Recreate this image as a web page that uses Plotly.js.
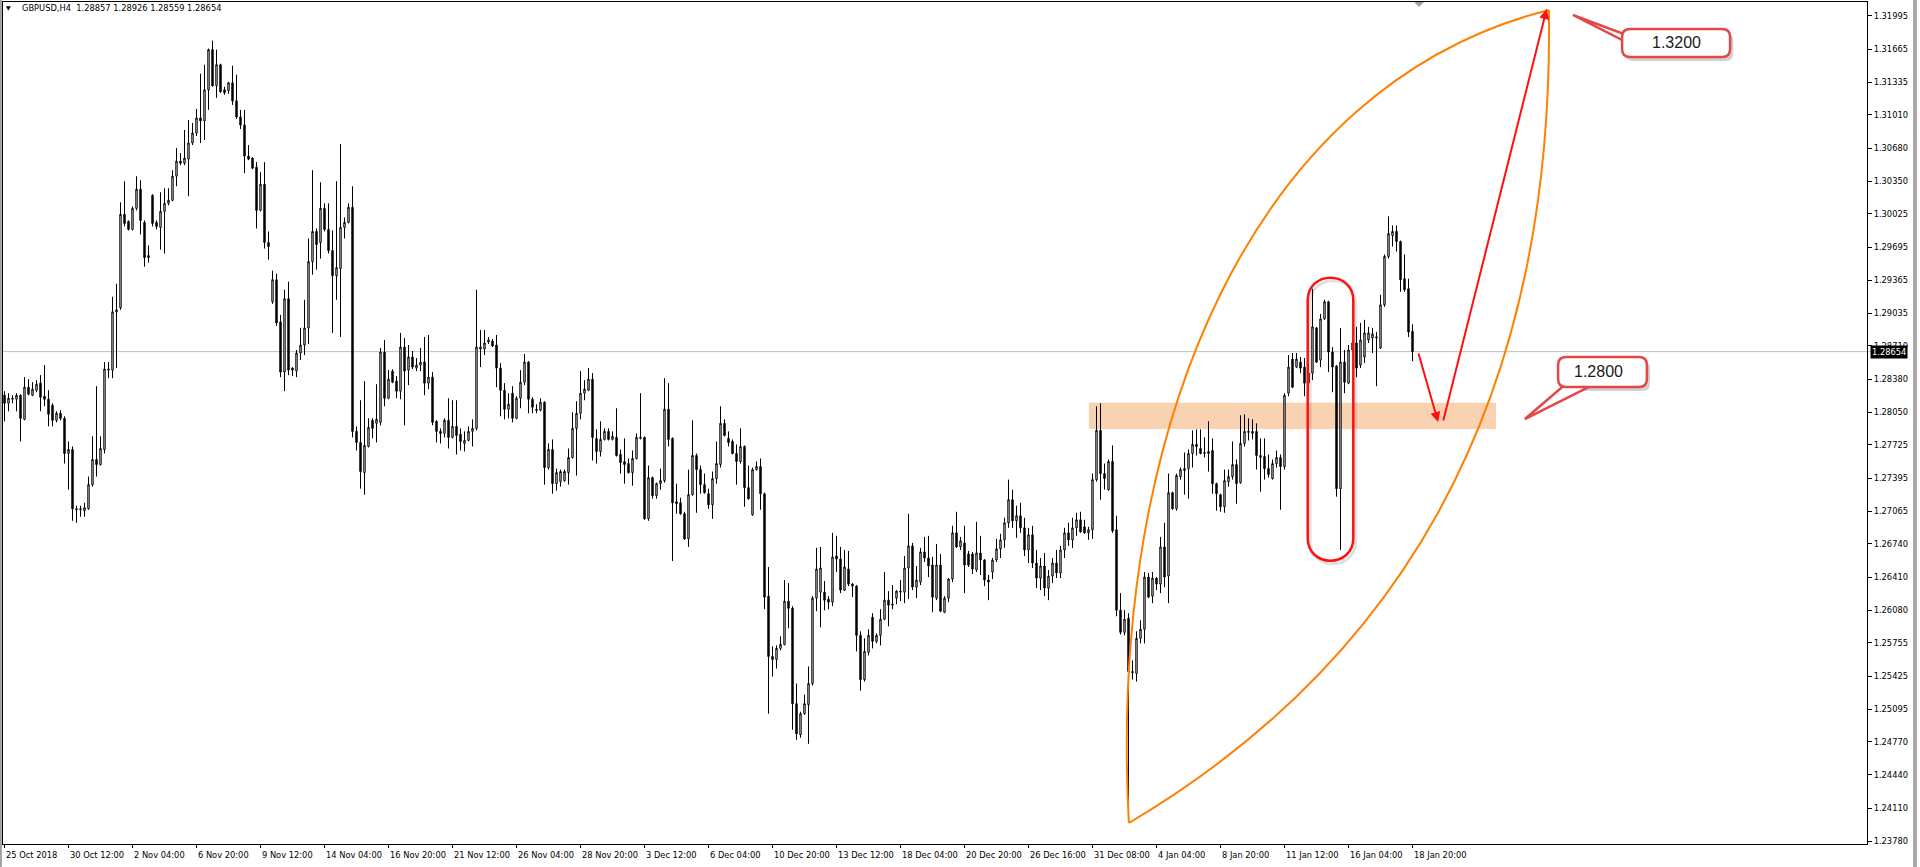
<!DOCTYPE html>
<html><head><meta charset="utf-8">
<script src="https://cdn.plot.ly/plotly-3.0.1.min.js"></script>
<style>html,body{margin:0;padding:0;background:#fff;overflow:hidden}#chart{width:1920px;height:867px}</style>
</head><body><div id="chart"></div><script>
// GBPUSD H4 candles, bar index 0 = 25 Oct 2018
const openP = [
1.2822,1.2814,1.2818,1.2818,1.2822,1.2798,1.2830,1.2822,1.2827,1.2834,
1.2821,1.2818,1.2812,1.2797,1.2804,1.2799,1.2764,1.2768,1.2709,1.2708,
1.2707,1.2709,1.2733,1.2758,1.2753,1.2768,1.2847,1.2847,1.2905,1.2909,
1.3002,1.2995,1.2987,1.3008,1.3027,1.2994,1.2959,1.3021,1.2994,1.2989,
1.3005,1.3013,1.3016,1.3040,1.3055,1.3053,1.3057,1.3073,1.3083,1.3098,
1.3095,1.3126,1.3166,1.3130,1.3151,1.3126,1.3125,1.3133,1.3115,1.3099,
1.3091,1.3060,1.3058,1.3049,1.3006,1.3032,1.2974,1.2915,1.2937,1.2895,
1.2845,1.2918,1.2849,1.2846,1.2864,1.2872,1.2889,1.2955,1.2985,1.2974,
1.3008,1.2987,1.2966,1.2941,1.2948,1.2989,1.2994,1.3009,1.2786,1.2775,
1.2745,1.2771,1.2797,1.2794,1.2795,1.2865,1.2819,1.2846,1.2836,1.2826,
1.2870,1.2847,1.2860,1.2849,1.2852,1.2855,1.2834,1.2840,1.2796,1.2786,
1.2784,1.2797,1.2780,1.2791,1.2783,1.2774,1.2777,1.2786,1.2789,1.2868,
1.2868,1.2875,1.2876,1.2872,1.2849,1.2827,1.2808,1.2824,1.2799,1.2819,
1.2835,1.2855,1.2818,1.2808,1.2807,1.2815,1.2750,1.2768,1.2734,1.2736,
1.2737,1.2745,1.2760,1.2789,1.2804,1.2824,1.2827,1.2838,1.2779,1.2766,
1.2778,1.2786,1.2778,1.2780,1.2763,1.2756,1.2754,1.2745,1.2759,1.2779,
1.2780,1.2699,1.2740,1.2722,1.2734,1.2737,1.2808,1.2779,1.2716,1.2715,
1.2704,1.2679,1.2723,1.2762,1.2748,1.2733,1.2724,1.2713,1.2739,1.2753,
1.2794,1.2779,1.2776,1.2764,1.2756,1.2771,1.2730,1.2703,1.2748,1.2751,
1.2724,1.2622,1.2562,1.2559,1.2570,1.2574,1.2617,1.2610,1.2515,1.2484,
1.2505,1.2514,1.2535,1.2620,1.2626,1.2626,1.2619,1.2616,1.2662,1.2659,
1.2628,1.2649,1.2634,1.2632,1.2583,1.2539,1.2566,1.2601,1.2577,1.2583,
1.2599,1.2618,1.2613,1.2620,1.2626,1.2626,1.2650,1.2672,1.2631,1.2636,
1.2666,1.2660,1.2653,1.2620,1.2653,1.2606,1.2620,1.2639,1.2685,1.2671,
1.2675,1.2664,1.2664,1.2648,1.2665,1.2658,1.2638,1.2646,1.2658,1.2669,
1.2678,1.2695,1.2718,1.2697,1.2702,1.2690,1.2668,1.2683,1.2655,1.2640,
1.2652,1.2630,1.2642,1.2655,1.2645,1.2668,1.2685,1.2678,1.2690,1.2698,
1.2691,1.2685,1.2688,1.2738,1.2787,1.2744,1.2728,1.2756,1.2688,1.2608,
1.2586,1.2600,1.2547,1.2545,1.2580,1.2589,1.2641,1.2622,1.2640,1.2634,
1.2671,1.2642,1.2725,1.2709,1.2741,1.2747,1.2749,1.2764,1.2773,1.2769,
1.2764,1.2764,1.2767,1.2734,1.2723,1.2711,1.2736,1.2741,1.2753,1.2735,
1.2774,1.2785,1.2784,1.2786,1.2760,1.2761,1.2749,1.2739,1.2754,1.2760,
1.2751,1.2824,1.2858,1.2850,1.2855,1.2850,1.2834,1.2844,1.2889,1.2857,
1.2898,1.2915,1.2865,1.2851,1.2729,1.2855,1.2834,1.2867,1.2874,1.2852,
1.2860,1.2877,1.2879,1.2879,1.2869,1.2912,1.2960,1.2981,1.2985,1.2975,
1.2938,1.2928,1.28857];
const highP = [
1.2826,1.2824,1.2822,1.2824,1.2823,1.2840,1.2838,1.2835,1.2837,1.2842,
1.2852,1.2827,1.2814,1.2806,1.2807,1.2801,1.2776,1.2771,1.2712,1.2712,
1.2715,1.2741,1.2781,1.2831,1.2781,1.2855,1.2855,1.2920,1.2933,1.3014,
1.3035,1.2996,1.3010,1.3040,1.3036,1.2996,1.2971,1.3022,1.2996,1.3024,
1.3028,1.3028,1.3046,1.3068,1.3063,1.3086,1.3096,1.3093,1.3107,1.3142,
1.3151,1.3167,1.3175,1.3166,1.3152,1.3129,1.3134,1.3150,1.3141,1.3106,
1.3106,1.3071,1.3059,1.3054,1.3044,1.3054,1.2985,1.2946,1.2943,1.2902,
1.2927,1.2935,1.2850,1.2867,1.2889,1.2917,1.2978,1.3046,1.2988,1.3034,
1.3013,1.3013,1.2986,1.3035,1.3072,1.2999,1.3013,1.3030,1.2791,1.2817,
1.2836,1.2799,1.2799,1.2833,1.2869,1.2877,1.2847,1.2848,1.2841,1.2884,
1.2879,1.2872,1.2866,1.2859,1.2869,1.2880,1.2882,1.2845,1.2797,1.2789,
1.2799,1.2819,1.2817,1.2817,1.2789,1.2786,1.2791,1.2798,1.2927,1.2887,
1.2887,1.2880,1.2878,1.2882,1.2854,1.2834,1.2824,1.2831,1.2821,1.2847,
1.2863,1.2856,1.2820,1.2813,1.2819,1.2816,1.2774,1.2778,1.2749,1.2748,
1.2748,1.2769,1.2805,1.2816,1.2846,1.2837,1.2849,1.2844,1.2788,1.2796,
1.2789,1.2789,1.2786,1.2809,1.2768,1.2779,1.2759,1.2767,1.2784,1.2824,
1.2781,1.2752,1.2741,1.2735,1.2749,1.2839,1.2834,1.2780,1.2734,1.2720,
1.2706,1.2748,1.2797,1.2764,1.2752,1.2744,1.2729,1.2746,1.2776,1.2811,
1.2798,1.2786,1.2778,1.2773,1.2789,1.2772,1.2752,1.2750,1.2756,1.2759,
1.2725,1.2651,1.2572,1.2573,1.2582,1.2638,1.2635,1.2612,1.2535,1.2507,
1.2524,1.2552,1.2622,1.2670,1.2671,1.2637,1.2622,1.2685,1.2682,1.2671,
1.2668,1.2667,1.2635,1.2633,1.2587,1.2580,1.2589,1.2605,1.2585,1.2609,
1.2646,1.2627,1.2633,1.2628,1.2638,1.2662,1.2704,1.2675,1.2652,1.2670,
1.2681,1.2682,1.2661,1.2674,1.2664,1.2622,1.2640,1.2692,1.2706,1.2681,
1.2692,1.2667,1.2666,1.2696,1.2682,1.2659,1.2643,1.2660,1.2679,1.2684,
1.2700,1.2738,1.2728,1.2712,1.2715,1.2700,1.2690,1.2692,1.2668,1.2660,
1.2665,1.2648,1.2660,1.2668,1.2672,1.2690,1.2695,1.2700,1.2705,1.2706,
1.2698,1.2691,1.2744,1.2811,1.2814,1.2754,1.2758,1.2772,1.2702,1.2625,
1.2608,1.2605,1.2558,1.2587,1.2598,1.2646,1.2645,1.2646,1.2641,1.2681,
1.2695,1.2744,1.2726,1.2744,1.2750,1.2765,1.2768,1.2787,1.2788,1.2788,
1.2780,1.2796,1.2779,1.2735,1.2724,1.2748,1.2748,1.2776,1.2758,1.2802,
1.2803,1.2799,1.2798,1.2794,1.2779,1.2779,1.2763,1.2758,1.2767,1.2763,
1.2824,1.2862,1.2864,1.2864,1.2860,1.2859,1.2854,1.2928,1.2890,1.2903,
1.2917,1.2916,1.2870,1.2852,1.2889,1.2867,1.2872,1.2877,1.2890,1.2894,
1.2897,1.2890,1.2889,1.2885,1.2922,1.2962,1.3000,1.2991,1.2991,1.2976,
1.2962,1.2938,1.28926];
const lowP = [
1.2796,1.2806,1.2814,1.2806,1.2776,1.2797,1.2822,1.2821,1.2825,1.2806,
1.2811,1.2791,1.2791,1.2795,1.2797,1.2754,1.2728,1.2697,1.2695,1.2701,
1.2701,1.2708,1.2731,1.2741,1.2752,1.2764,1.2839,1.2839,1.2849,1.2907,
1.2990,1.2986,1.2986,1.3006,1.2982,1.2950,1.2954,1.2990,1.2987,1.2967,
1.2963,1.3011,1.3015,1.3030,1.3051,1.3051,1.3020,1.3071,1.3080,1.3073,
1.3076,1.3106,1.3129,1.3118,1.3123,1.3121,1.3122,1.3111,1.3097,1.3087,
1.3043,1.3056,1.3047,1.2988,1.3005,1.2968,1.2957,1.2913,1.2891,1.2840,
1.2826,1.2842,1.2841,1.2840,1.2857,1.2862,1.2873,1.2942,1.2947,1.2958,
1.2985,1.2963,1.2884,1.2917,1.2880,1.2978,1.2993,1.2780,1.2767,1.2729,
1.2723,1.2770,1.2779,1.2775,1.2792,1.2811,1.2818,1.2834,1.2819,1.2818,
1.2792,1.2832,1.2848,1.2846,1.2846,1.2822,1.2828,1.2792,1.2775,1.2774,
1.2780,1.2769,1.2779,1.2763,1.2767,1.2766,1.2776,1.2771,1.2787,1.2850,
1.2862,1.2873,1.2870,1.2830,1.2801,1.2798,1.2799,1.2795,1.2798,1.2809,
1.2832,1.2804,1.2804,1.2804,1.2806,1.2733,1.2748,1.2724,1.2727,1.2731,
1.2736,1.2733,1.2759,1.2742,1.2798,1.2817,1.2826,1.2757,1.2754,1.2761,
1.2777,1.2777,1.2777,1.2761,1.2744,1.2734,1.2744,1.2732,1.2758,1.2778,
1.2698,1.2697,1.2719,1.2719,1.2728,1.2735,1.2771,1.2657,1.2704,1.2703,
1.2678,1.2671,1.2722,1.2705,1.2724,1.2724,1.2709,1.2699,1.2734,1.2750,
1.2781,1.2771,1.2763,1.2733,1.2754,1.2711,1.2718,1.2702,1.2747,1.2708,
1.2609,1.2505,1.2542,1.2550,1.2568,1.2573,1.2590,1.2489,1.2479,1.2481,
1.2504,1.2475,1.2533,1.2607,1.2591,1.2608,1.2609,1.2612,1.2646,1.2625,
1.2627,1.2632,1.2621,1.2567,1.2528,1.2537,1.2563,1.2570,1.2575,1.2573,
1.2598,1.2592,1.2609,1.2614,1.2617,1.2615,1.2619,1.2628,1.2620,1.2633,
1.2656,1.2641,1.2606,1.2618,1.2606,1.2605,1.2616,1.2636,1.2670,1.2668,
1.2625,1.2651,1.2644,1.2646,1.2643,1.2632,1.2618,1.2639,1.2656,1.2660,
1.2670,1.2690,1.2690,1.2680,1.2685,1.2662,1.2655,1.2650,1.2630,1.2628,
1.2622,1.2618,1.2635,1.2640,1.2640,1.2660,1.2672,1.2670,1.2682,1.2685,
1.2684,1.2678,1.2679,1.2736,1.2718,1.2728,1.2727,1.2685,1.2602,1.2584,
1.2583,1.2409,1.2539,1.2537,1.2575,1.2575,1.2620,1.2615,1.2628,1.2625,
1.2631,1.2615,1.2708,1.2707,1.2738,1.2723,1.2719,1.2750,1.2762,1.2763,
1.2760,1.2746,1.2724,1.2707,1.2706,1.2705,1.2731,1.2738,1.2714,1.2734,
1.2771,1.2777,1.2778,1.2748,1.2726,1.2738,1.2740,1.2738,1.2750,1.2708,
1.2748,1.2821,1.2829,1.2849,1.2844,1.2821,1.2826,1.2837,1.2854,1.2850,
1.2897,1.2845,1.2825,1.2721,1.2668,1.2824,1.2833,1.2865,1.2840,1.2849,
1.2854,1.2874,1.2864,1.2831,1.2868,1.2910,1.2958,1.2970,1.2965,1.2925,
1.2925,1.2880,1.28559];
const closeP = [
1.2814,1.2819,1.2819,1.2822,1.2799,1.2830,1.2823,1.2828,1.2833,1.2820,
1.2818,1.2803,1.2797,1.2804,1.2799,1.2764,1.2768,1.2709,1.2708,1.2709,
1.2710,1.2733,1.2758,1.2753,1.2769,1.2848,1.2848,1.2905,1.2907,1.3002,
1.2993,1.2987,1.3008,1.3027,1.2996,1.2959,1.2961,1.2993,1.2990,1.3005,
1.3013,1.3016,1.3040,1.3055,1.3053,1.3058,1.3073,1.3083,1.3098,1.3095,
1.3126,1.3166,1.3130,1.3151,1.3124,1.3123,1.3133,1.3115,1.3099,1.3091,
1.3060,1.3057,1.3048,1.3006,1.3032,1.2974,1.2970,1.2937,1.2894,1.2845,
1.2918,1.2847,1.2847,1.2864,1.2872,1.2889,1.2955,1.2985,1.2972,1.3008,
1.2987,1.2966,1.2941,1.2949,1.2989,1.2994,1.3009,1.2786,1.2775,1.2746,
1.2772,1.2790,1.2789,1.2798,1.2865,1.2819,1.2838,1.2835,1.2826,1.2870,
1.2846,1.2860,1.2850,1.2852,1.2855,1.2834,1.2840,1.2795,1.2786,1.2784,
1.2797,1.2780,1.2791,1.2782,1.2776,1.2777,1.2786,1.2789,1.2870,1.2870,
1.2874,1.2877,1.2871,1.2849,1.2827,1.2808,1.2813,1.2799,1.2819,1.2835,
1.2855,1.2818,1.2810,1.2807,1.2815,1.2750,1.2768,1.2734,1.2745,1.2746,
1.2746,1.2760,1.2789,1.2804,1.2824,1.2828,1.2838,1.2780,1.2766,1.2778,
1.2786,1.2778,1.2781,1.2762,1.2755,1.2753,1.2745,1.2759,1.2780,1.2780,
1.2699,1.2740,1.2722,1.2734,1.2737,1.2808,1.2778,1.2715,1.2714,1.2704,
1.2679,1.2723,1.2762,1.2748,1.2733,1.2725,1.2713,1.2739,1.2754,1.2794,
1.2782,1.2775,1.2764,1.2756,1.2771,1.2730,1.2719,1.2748,1.2751,1.2724,
1.2621,1.2562,1.2559,1.2570,1.2574,1.2617,1.2610,1.2515,1.2485,1.2505,
1.2515,1.2535,1.2620,1.2649,1.2650,1.2618,1.2616,1.2661,1.2659,1.2628,
1.2651,1.2634,1.2632,1.2583,1.2539,1.2567,1.2583,1.2577,1.2583,1.2599,
1.2618,1.2613,1.2614,1.2627,1.2627,1.2650,1.2672,1.2631,1.2638,1.2666,
1.2660,1.2652,1.2621,1.2653,1.2607,1.2620,1.2639,1.2685,1.2671,1.2677,
1.2653,1.2653,1.2649,1.2665,1.2658,1.2638,1.2636,1.2658,1.2669,1.2678,
1.2695,1.2718,1.2697,1.2702,1.2690,1.2668,1.2683,1.2655,1.2640,1.2652,
1.2630,1.2642,1.2655,1.2645,1.2668,1.2685,1.2678,1.2690,1.2698,1.2686,
1.2685,1.2688,1.2738,1.2787,1.2744,1.2739,1.2756,1.2687,1.2608,1.2586,
1.2599,1.2547,1.2546,1.2580,1.2589,1.2641,1.2621,1.2640,1.2634,1.2671,
1.2641,1.2725,1.2709,1.2742,1.2748,1.2749,1.2764,1.2773,1.2771,1.2764,
1.2765,1.2766,1.2734,1.2724,1.2711,1.2737,1.2741,1.2753,1.2734,1.2774,
1.2786,1.2786,1.2786,1.2762,1.2762,1.2749,1.2743,1.2754,1.2760,1.2751,
1.2822,1.2850,1.2830,1.2858,1.2849,1.2834,1.2844,1.2890,1.2855,1.2898,
1.2915,1.2865,1.2850,1.2729,1.2855,1.2835,1.2867,1.2874,1.2849,1.2877,
1.2884,1.2884,1.2883,1.2880,1.2912,1.2960,1.2983,1.2985,1.2975,1.2937,
1.2927,1.2885,1.28654];

const timeTickBars = [0,16,32,48,64,80,96,112,128,144,160,176,192,208,224,240,256,272,288,304,320,336,352];
const timeTickLabels = ['25 Oct 2018','30 Oct 12:00','2 Nov 04:00','6 Nov 20:00','9 Nov 12:00','14 Nov 04:00','16 Nov 20:00','21 Nov 12:00','26 Nov 04:00','28 Nov 20:00','3 Dec 12:00','6 Dec 04:00','10 Dec 20:00','13 Dec 12:00','18 Dec 04:00','20 Dec 20:00','26 Dec 16:00','31 Dec 08:00','4 Jan 04:00','8 Jan 20:00','11 Jan 12:00','16 Jan 04:00','18 Jan 20:00'];
const priceTicks = [1.31995,1.31665,1.31335,1.31010,1.30680,1.30350,1.30025,1.29695,1.29365,1.29035,1.28710,1.28380,1.28050,1.27725,1.27395,1.27065,1.26740,1.26410,1.26080,1.25755,1.25425,1.25095,1.24770,1.24440,1.24110,1.23780];
const symbolInfo = 'GBPUSD,H4\u00a0\u00a01.28857 1.28926 1.28559 1.28654';
const lastPrice = 1.28654;
const targetHigh = '1.3200';
const targetLow = '1.2800';

const barIdx = openP.map((_, i) => i);
const FONT = 'DejaVu Sans';

function roundRect(x0, x1, y0, y1, rx, ry) {
  return `M${x0+rx},${y1} L${x1-rx},${y1} Q${x1},${y1} ${x1},${y1-ry} L${x1},${y0+ry} Q${x1},${y0} ${x1-rx},${y0} L${x0+rx},${y0} Q${x0},${y0} ${x0},${y0+ry} L${x0},${y1-ry} Q${x0},${y1} ${x0+rx},${y1} Z`;
}
function stadium(x0, x1, yTopC, yTopK, yBotC, yBotK) {
  return `M${x0},${yTopC} C${x0},${yTopK} ${x1},${yTopK} ${x1},${yTopC} L${x1},${yBotC} C${x1},${yBotK} ${x0},${yBotK} ${x0},${yBotC} Z`;
}

const trace = {
  type: 'candlestick', x: barIdx, open: openP, high: highP, low: lowP, close: closeP,
  increasing: {line: {color: '#000', width: 1}, fillcolor: '#ffffff'},
  decreasing: {line: {color: '#000', width: 1}, fillcolor: '#000000'},
  whiskerwidth: 0, hoverinfo: 'skip', showlegend: false
};

const RED = '#ff1010', CALL = '#e24848', ORANGE = '#ff8000';
const shapes = [
  // window borders
  {type:'rect', xref:'paper', yref:'paper', x0:-0.0017, x1:-0.0006, y0:-0.03, y1:1.003, fillcolor:'#a0a0a0', line:{width:0}},
  {type:'rect', xref:'paper', yref:'paper', x0:1.0247, x1:1.0268, y0:-0.03, y1:1.003, fillcolor:'#a8a8a8', line:{width:0}},
  // chart-shift marker
  {type:'path', xref:'paper', yref:'paper', path:'M0.7570,1.0 L0.7623,1.0 L0.7597,0.9941 Z', fillcolor:'#a0a0a0', line:{width:0}},
  // support zone
  {type:'rect', xref:'x', yref:'y', x0:271.1, x1:372.9, y0:1.27884, y1:1.28146, fillcolor:'#f9d2b2', line:{width:0}, layer:'below'},
  // current price line
  {type:'line', xref:'paper', yref:'y', x0:0, x1:1.002, y0:lastPrice, y1:lastPrice, line:{color:'#c0c0c0', width:1}, layer:'below'},
  // lens arcs
  {type:'path', xref:'x', yref:'y', path:'M281.1,1.23962 C275.6,1.27944 312.6,1.31318 386.1,1.32054', line:{color:ORANGE, width:2}},
  {type:'path', xref:'x', yref:'y', path:'M281.1,1.23962 C345.6,1.25485 387.6,1.27973 386.1,1.32054', line:{color:ORANGE, width:2}},
  // stadium shadow + stadium
  {type:'path', xref:'x', yref:'y', path:stadium(326.4,337.8,1.29133,1.29435,1.26770,1.26467), line:{color:'rgba(0,0,0,0.12)', width:3}},
  {type:'path', xref:'x', yref:'y', path:stadium(325.8,337.2,1.29163,1.29465,1.26800,1.26497), line:{color:RED, width:2.5}},
  // callout 1.3200 shadow, pointer, box
  {type:'path', xref:'x', yref:'y', path:roundRect(405.2,432.2,1.31547,1.31825,2,0.0008), fillcolor:'rgba(0,0,0,0.18)', line:{width:0}},
  {type:'path', xref:'x', yref:'y', path:'M392.1,1.32005 L405.4,1.31806 L405.4,1.31736 Z', fillcolor:'#ffffff', line:{color:CALL, width:2.5}},
  {type:'path', xref:'x', yref:'y', path:roundRect(404.4,431.4,1.31587,1.31865,2,0.0008), fillcolor:'#ffffff', line:{color:CALL, width:2.5}},
  // callout 1.2800 shadow, pointer, box
  {type:'path', xref:'x', yref:'y', path:roundRect(389.2,411.4,1.28262,1.28560,2,0.0008), fillcolor:'rgba(0,0,0,0.18)', line:{width:0}},
  {type:'path', xref:'x', yref:'y', path:'M380.1,1.27983 L390.6,1.28342 L398.1,1.28342 Z', fillcolor:'#ffffff', line:{color:CALL, width:2.5}},
  {type:'path', xref:'x', yref:'y', path:roundRect(388.4,410.6,1.28302,1.28600,2,0.0008), fillcolor:'#ffffff', line:{color:CALL, width:2.5}}
];

const annotations = [
  {xref:'paper', yref:'paper', x:0.0028, y:0.9929, xanchor:'center', yanchor:'middle', text:'\u25BC', showarrow:false, font:{family:FONT, size:6, color:'#000'}},
  {xref:'paper', yref:'paper', x:0.0091, y:0.9929, xanchor:'left', yanchor:'middle', text:symbolInfo, showarrow:false, font:{family:FONT, size:8.3, color:'#000'}},
  {xref:'paper', yref:'y', x:1, y:lastPrice, xanchor:'left', yanchor:'middle', xshift:3, text:lastPrice.toFixed(5), showarrow:false, bgcolor:'#000', borderpad:1, font:{family:FONT, size:8.3, color:'#fff'}},
  {xref:'x', yref:'y', x:358.4, y:1.27953, ax:353.4, ay:1.28650, axref:'x', ayref:'y', text:'', showarrow:true, arrowhead:2, arrowsize:1, arrowwidth:2, arrowcolor:RED, standoff:0},
  {xref:'x', yref:'y', x:385.55, y:1.32064, ax:359.6, ay:1.27953, axref:'x', ayref:'y', text:'', showarrow:true, arrowhead:2, arrowsize:1, arrowwidth:2, arrowcolor:RED, standoff:0},
  {xref:'x', yref:'y', x:417.9, y:1.31726, text:targetHigh, showarrow:false, xanchor:'center', yanchor:'middle', font:{family:'Liberation Sans', size:16, color:'#1a1a1a'}},
  {xref:'x', yref:'y', x:398.4, y:1.28461, text:targetLow, showarrow:false, xanchor:'center', yanchor:'middle', font:{family:'Liberation Sans', size:16, color:'#1a1a1a'}}
];
timeTickBars.forEach((b, k) => {
  annotations.push({xref:'x', yref:'paper', x:b, y:0, xanchor:'left', yanchor:'top', xshift:-1, yshift:-4, text:timeTickLabels[k], showarrow:false, font:{family:FONT, size:8.3, color:'#000'}});
});

const layout = {
  width:1920, height:867,
  margin:{l:3, r:53, t:2, b:23, pad:0},
  paper_bgcolor:'#ffffff', plot_bgcolor:'#ffffff',
  showlegend:false, boxgap:0.5,
  xaxis:{range:[-0.375, 465.625], showgrid:false, zeroline:false, showline:true, mirror:true, linecolor:'#000', linewidth:1,
    tickmode:'array', tickvals:timeTickBars, ticks:'outside', ticklen:3, tickcolor:'#000', showticklabels:false,
    rangeslider:{visible:false}, fixedrange:true},
  yaxis:{range:[1.23753, 1.32134], side:'right', showgrid:false, zeroline:false, showline:true, mirror:true, linecolor:'#000', linewidth:1,
    tickmode:'array', tickvals:priceTicks, ticktext:priceTicks.map(v => v.toFixed(5)), ticks:'outside', ticklen:4, tickcolor:'#000',
    tickfont:{family:FONT, size:8.3, color:'#000'}, fixedrange:true},
  shapes: shapes, annotations: annotations
};

Plotly.newPlot('chart', [trace], layout, {staticPlot:true, displayModeBar:false});
</script></body></html>
